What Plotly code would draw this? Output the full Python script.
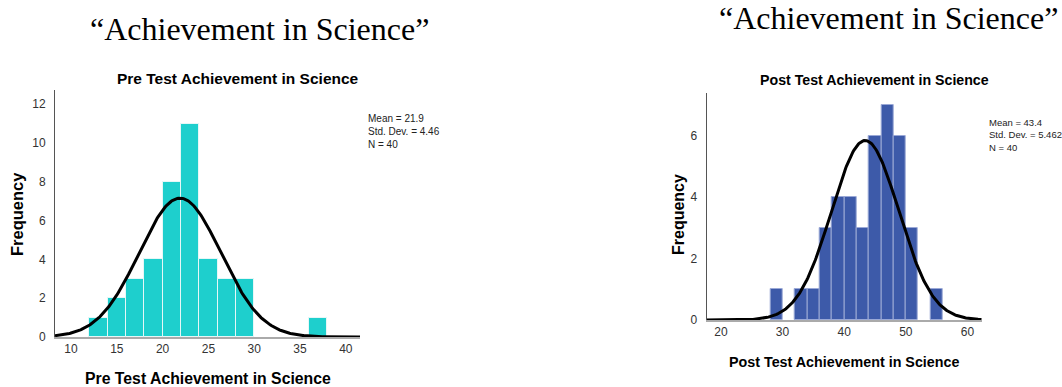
import numpy as np
import plotly.graph_objects as go

# ---- data ----
pre_bin_starts = [12, 14, 16, 18, 20, 22, 24, 26, 28, 36]
pre_counts = [1, 2, 3, 4, 8, 11, 4, 3, 3, 1]
pre_mean, pre_sd, pre_n = 21.9, 4.46, 40

post_bin_starts = [28, 32, 34, 36, 38, 40, 42, 44, 46, 48, 50, 54]
post_counts = [1, 1, 1, 3, 4, 4, 3, 6, 7, 6, 3, 1]
post_mean, post_sd, post_n = 43.4, 5.462, 40

bin_width = 2
pre_xticks = [10, 15, 20, 25, 30, 35, 40]
pre_yticks = [0, 2, 4, 6, 8, 10, 12]
post_xticks = [20, 30, 40, 50, 60]
post_yticks = [0, 2, 4, 6]

pre_xrange = [8.25, 41.55]
post_xrange = [17.7, 62.3]


def normal_curve(mean, sd, n, xr):
    xs = np.linspace(xr[0], xr[1], 300)
    ys = n * bin_width / (sd * np.sqrt(2 * np.pi)) * np.exp(-0.5 * ((xs - mean) / sd) ** 2)
    return xs, ys


fig = go.Figure()

fig.add_trace(go.Bar(
    x=[s + bin_width / 2 for s in pre_bin_starts], y=pre_counts, width=bin_width,
    marker=dict(color="#1ECFCD", line=dict(color="#E6F7F7", width=1)),
    xaxis="x", yaxis="y", showlegend=False, hoverinfo="x+y"))
xs, ys = normal_curve(pre_mean, pre_sd, pre_n, pre_xrange)
fig.add_trace(go.Scatter(x=xs, y=ys, mode="lines", line=dict(color="black", width=3),
                         xaxis="x", yaxis="y", showlegend=False))

fig.add_trace(go.Bar(
    x=[s + bin_width / 2 for s in post_bin_starts], y=post_counts, width=bin_width,
    marker=dict(color="#3D5AA9", line=dict(color="#9AA8D6", width=1)),
    xaxis="x2", yaxis="y2", showlegend=False, hoverinfo="x+y"))
xs2, ys2 = normal_curve(post_mean, post_sd, post_n, post_xrange)
fig.add_trace(go.Scatter(x=xs2, y=ys2, mode="lines", line=dict(color="black", width=3),
                         xaxis="x2", yaxis="y2", showlegend=False))

W, H = 1062, 387
tickfont = dict(family="Liberation Sans, Arial", size=12, color="#333333")

axis_common = dict(showgrid=False, zeroline=False, ticks="", tickfont=tickfont, automargin=False,
                   showline=True, linecolor="#AAAAAA", linewidth=1.5, fixedrange=True)
yaxis_common = {**axis_common, "linecolor": "#555555", "linewidth": 1}

fig.update_layout(
    width=W, height=H,
    margin=dict(l=0, r=0, t=0, b=0),
    paper_bgcolor="white", plot_bgcolor="white",
    bargap=0,
    xaxis=dict(domain=[55 / W, 360 / W], range=pre_xrange, tickvals=pre_xticks,
               anchor="y", **axis_common),
    yaxis=dict(domain=[(H - 337) / H, (H - 90) / H], range=[0, 12.73], tickvals=pre_yticks,
               anchor="x", ticklabelstandoff=6, **yaxis_common),
    xaxis2=dict(domain=[706.7 / W, 981.7 / W], range=post_xrange, tickvals=post_xticks,
                anchor="y2", **axis_common),
    yaxis2=dict(domain=[(H - 320) / H, (H - 93) / H], range=[0, 7.39], tickvals=post_yticks,
                anchor="x2", ticklabelstandoff=6, **yaxis_common),
)


def px_ann(text, x, y, size, bold=False, family="Liberation Sans, Arial", xanchor="center",
           yanchor="middle", angle=0, align="center", color="black"):
    if bold:
        text = "<b>" + text + "</b>"
    fig.add_annotation(text=text, x=x / W, y=1 - y / H, xref="paper", yref="paper",
                       showarrow=False, xanchor=xanchor, yanchor=yanchor, textangle=angle,
                       align=align, font=dict(family=family, size=size, color=color))


serif = "Liberation Serif, Times New Roman"
px_ann("\u201cAchievement in Science\u201d", 259, 29, 32, family=serif)
px_ann("\u201cAchievement in Science\u201d", 888, 18, 32, family=serif)

px_ann("Pre Test Achievement in Science", 238, 78, 15.5, bold=True)
px_ann("Post Test Achievement in Science", 874, 80, 14.2, bold=True)

px_ann("Pre Test Achievement in Science", 208, 378, 15.8, bold=True)
px_ann("Post Test Achievement in Science", 844, 362, 14.3, bold=True)

px_ann("Frequency", 17, 214, 16.5, bold=True, angle=-90)
px_ann("Frequency", 678, 215, 16, bold=True, angle=-90)

px_ann("Mean = 21.9<br>Std. Dev. = 4.46<br>N = 40", 366, 111, 10, xanchor="left",
       yanchor="top", align="left", color="#222222")
px_ann("Mean = 43.4<br>Std. Dev. = 5.462<br>N = 40", 987, 115, 9.5, xanchor="left",
       yanchor="top", align="left", color="#222222")

fig.write_html("out.html", config={"displayModeBar": False},
               post_script="document.body.style.margin='0';document.body.style.overflow='hidden';")
